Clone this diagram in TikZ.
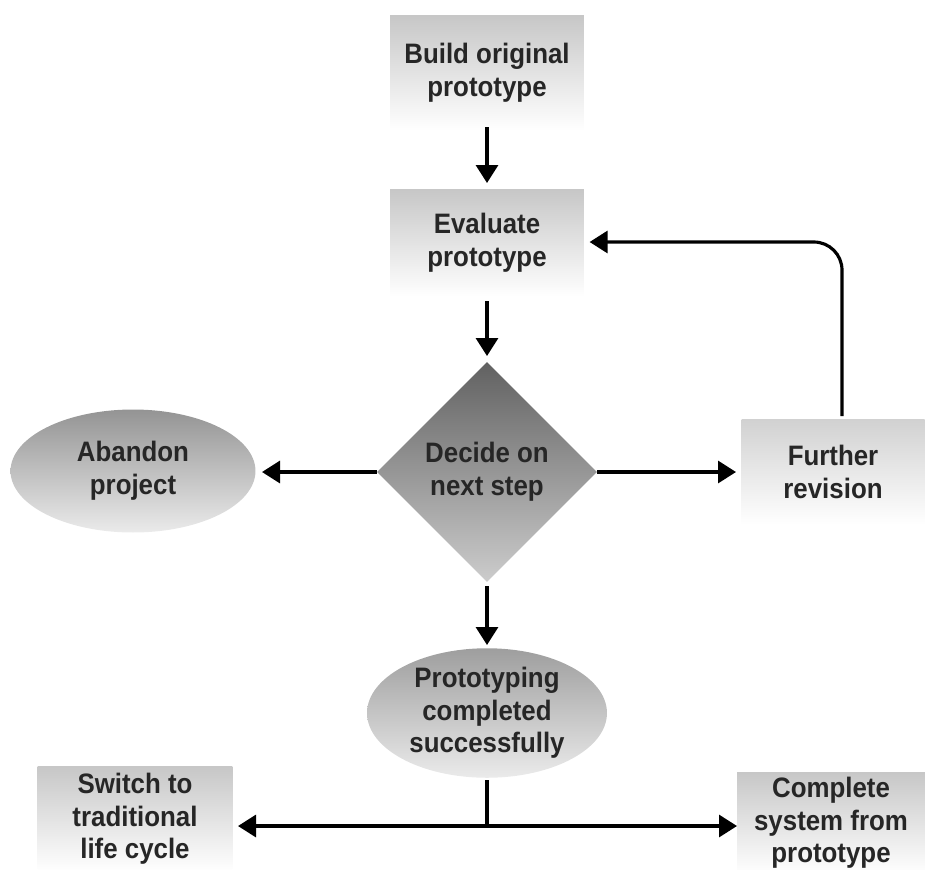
\documentclass[tikz,border=0pt]{standalone}
\usepackage{fontspec}
\setmainfont{Liberation Sans}[FakeStretch=0.92]
\usetikzlibrary{shapes.geometric,arrows.meta}
\begin{document}
\begin{tikzpicture}[x=0.02cm,y=-0.02cm,
  lbl/.style={font=\fontsize{16}{18.6}\selectfont\bfseries, align=center, text=black!85},
  boxn/.style={lbl, rectangle, inner sep=0pt, top color=black!22, bottom color=white},
  ell/.style={lbl, ellipse, inner sep=0pt, top color=black!42, bottom color=black!8},
  dia/.style={lbl, diamond, inner sep=0pt, top color=black!62, bottom color=black!20},
  arr/.style={line width=1.8pt, -{Triangle[length=0.36cm,width=0.44cm]}},
  ln/.style={line width=1.8pt}]
\useasboundingbox (0,0) rectangle (925,869);
\node[boxn, minimum width=3.88cm, minimum height=2.3cm] (build) at (487,73) {Build original\\prototype};
\node[boxn, minimum width=3.88cm, minimum height=2.14cm] (eval) at (487,243) {Evaluate\\prototype};
\node[dia, minimum width=4.4cm, minimum height=4.4cm] (dec) at (487,472) {Decide on\\next step};
\node[ell, minimum width=4.9cm, minimum height=2.46cm] (aband) at (133,471) {Abandon\\project};
\node[boxn, minimum width=3.66cm, minimum height=2.1cm, top color=black!18] (rev) at (833,472) {Further\\revision};
\node[ell, minimum width=4.8cm, minimum height=2.5cm, top color=black!38] (succ) at (487,713) {Prototyping\\completed\\successfully};
\node[boxn, minimum width=3.9cm, minimum height=2.1cm] (sw) at (135,819) {Switch to\\traditional\\life cycle};
\node[boxn, minimum width=3.76cm, minimum height=2.04cm] (comp) at (831,823) {Complete\\system from\\prototype};
\coordinate (j) at (487,826);
\draw[arr] (487,127) -- (487,183);
\draw[arr] (487,301) -- (487,356);
\draw[arr] (dec.west) -- (262,472);
\draw[arr] (dec.east) -- (736,472);
\draw[arr] (dec.south) ++(0,4) -- (487,645);
\draw[arr, rounded corners=16] (842,416) -- (842,242) -- ([xshift=3]eval.east |- 0,242);
\draw[ln] (succ.south) ++(0,2) -- (j);
\draw[arr] (j) -- (238,826);
\draw[arr] (j) -- (737,826);
\end{tikzpicture}
\end{document}
